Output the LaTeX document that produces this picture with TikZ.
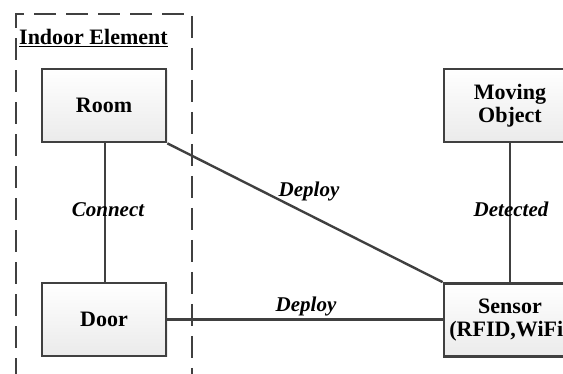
\documentclass[tikz,border=0pt]{standalone}
\usepackage{fontspec}
\setmainfont{Liberation Serif}
\usetikzlibrary{shadows}
\definecolor{edgegray}{HTML}{404040}
\tikzset{
  entity/.style={draw=edgegray, line width=2.7pt, top color=white, bottom color=black!8,
    minimum width=124pt, minimum height=73pt, inner sep=0pt, align=center,
    font=\fontsize{22}{23.5}\selectfont\bfseries,
    drop shadow={shadow xshift=1.5pt, shadow yshift=-1.5pt, fill=black!12, opacity=0.6}},
  link/.style={draw=edgegray, line width=2.4pt},
  lab/.style={font=\fontsize{21}{22}\selectfont\bfseries\itshape, anchor=base, inner sep=0pt},
  group/.style={draw=edgegray, line width=2.7pt, dash pattern=on 22pt off 10pt}
}
\begin{document}
\begin{tikzpicture}[x=1pt,y=-1pt]
\useasboundingbox (0,0) rectangle (563,374);
\clip (0,0) rectangle (563,374);
\draw[group] (16,380) -- (16,14) -- (192,14) -- (192,380);
\node[anchor=base west, inner sep=0pt, font=\fontsize{22}{23}\selectfont\bfseries] (title) at (19,45) {\underline{Indoor Element}};
\node[entity] (room) at (104,105.5) {Room};
\node[entity] (door) at (104,319.5) {Door};
\node[entity, minimum width=132pt] (mov) at (510,105.5) {Moving\\Object};
\node[entity, minimum width=132pt, text width=132pt] (sens) at (510,320) {Sensor\\(RFID,WiFi)};
\draw[link] (room.south) ++(1,0) coordinate (rs) -- (rs |- door.north);
\draw[link] (room.south east) -- (sens.north west);
\draw[link] (door.east) -- (door.east -| sens.west);
\draw[link] (mov.south) -- (sens.north);
\node[lab] (l1) at (108,217) {Connect};
\node[lab] (l2) at (309,197) {Deploy};
\node[lab] (l3) at (306,312) {Deploy};
\node[lab] (l4) at (511,217) {Detected};
\end{tikzpicture}
\end{document}
